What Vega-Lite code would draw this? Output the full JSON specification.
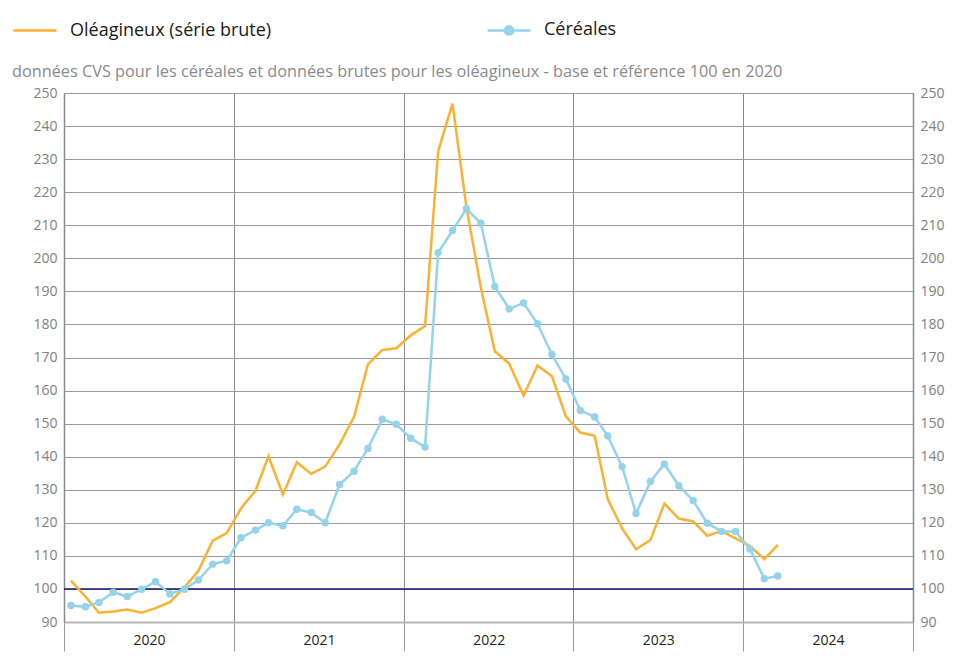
{
  "$schema": "https://vega.github.io/schema/vega-lite/v6.json",
  "width": 849,
  "height": 529,
  "autosize": {"type": "none"},
  "padding": {"left": 64, "top": 93, "right": 45, "bottom": 49},
  "background": "white",
  "config": {
    "font": "Open Sans",
    "view": {"stroke": null},
    "axis": {"labelFont": "Open Sans", "titleFont": "Open Sans"},
    "legend": {"labelFont": "Open Sans"}
  },
  "title": {
    "text": "données CVS pour les céréales et données brutes pour les oléagineux - base et référence 100 en 2020",
    "anchor": "start",
    "frame": "group",
    "dx": -52,
    "dy": 79,
    "offset": 6,
    "fontSize": 16.3,
    "fontWeight": "normal",
    "color": "#8a8a8a",
    "font": "Open Sans"
  },
  "datasets": {
    "series": [
      {"date": "2020-01-16", "serie": "Céréales", "value": 95.0},
      {"date": "2020-02-16", "serie": "Céréales", "value": 94.6},
      {"date": "2020-03-16", "serie": "Céréales", "value": 95.9},
      {"date": "2020-04-16", "serie": "Céréales", "value": 99.0},
      {"date": "2020-05-16", "serie": "Céréales", "value": 97.7},
      {"date": "2020-06-16", "serie": "Céréales", "value": 99.9},
      {"date": "2020-07-16", "serie": "Céréales", "value": 102.2},
      {"date": "2020-08-16", "serie": "Céréales", "value": 98.5},
      {"date": "2020-09-16", "serie": "Céréales", "value": 99.9},
      {"date": "2020-10-16", "serie": "Céréales", "value": 102.7},
      {"date": "2020-11-16", "serie": "Céréales", "value": 107.5},
      {"date": "2020-12-16", "serie": "Céréales", "value": 108.5},
      {"date": "2021-01-16", "serie": "Céréales", "value": 115.5},
      {"date": "2021-02-16", "serie": "Céréales", "value": 117.8},
      {"date": "2021-03-16", "serie": "Céréales", "value": 120.0},
      {"date": "2021-04-16", "serie": "Céréales", "value": 119.1},
      {"date": "2021-05-16", "serie": "Céréales", "value": 124.1},
      {"date": "2021-06-16", "serie": "Céréales", "value": 123.1},
      {"date": "2021-07-16", "serie": "Céréales", "value": 120.0},
      {"date": "2021-08-16", "serie": "Céréales", "value": 131.6},
      {"date": "2021-09-16", "serie": "Céréales", "value": 135.6},
      {"date": "2021-10-16", "serie": "Céréales", "value": 142.5},
      {"date": "2021-11-16", "serie": "Céréales", "value": 151.3},
      {"date": "2021-12-16", "serie": "Céréales", "value": 149.8},
      {"date": "2022-01-16", "serie": "Céréales", "value": 145.6},
      {"date": "2022-02-16", "serie": "Céréales", "value": 142.9},
      {"date": "2022-03-16", "serie": "Céréales", "value": 201.7},
      {"date": "2022-04-16", "serie": "Céréales", "value": 208.4},
      {"date": "2022-05-16", "serie": "Céréales", "value": 215.0},
      {"date": "2022-06-16", "serie": "Céréales", "value": 210.6},
      {"date": "2022-07-16", "serie": "Céréales", "value": 191.5},
      {"date": "2022-08-16", "serie": "Céréales", "value": 184.7},
      {"date": "2022-09-16", "serie": "Céréales", "value": 186.5},
      {"date": "2022-10-16", "serie": "Céréales", "value": 180.2},
      {"date": "2022-11-16", "serie": "Céréales", "value": 170.9},
      {"date": "2022-12-16", "serie": "Céréales", "value": 163.5},
      {"date": "2023-01-16", "serie": "Céréales", "value": 154.0},
      {"date": "2023-02-16", "serie": "Céréales", "value": 152.0},
      {"date": "2023-03-16", "serie": "Céréales", "value": 146.3},
      {"date": "2023-04-16", "serie": "Céréales", "value": 137.0},
      {"date": "2023-05-16", "serie": "Céréales", "value": 122.8},
      {"date": "2023-06-16", "serie": "Céréales", "value": 132.5},
      {"date": "2023-07-16", "serie": "Céréales", "value": 137.8},
      {"date": "2023-08-16", "serie": "Céréales", "value": 131.2},
      {"date": "2023-09-16", "serie": "Céréales", "value": 126.7},
      {"date": "2023-10-16", "serie": "Céréales", "value": 119.9},
      {"date": "2023-11-16", "serie": "Céréales", "value": 117.4},
      {"date": "2023-12-16", "serie": "Céréales", "value": 117.4},
      {"date": "2024-01-16", "serie": "Céréales", "value": 112.1},
      {"date": "2024-02-16", "serie": "Céréales", "value": 103.1},
      {"date": "2024-03-16", "serie": "Céréales", "value": 103.9},
      {"date": "2020-01-16", "serie": "Oléagineux (série brute)", "value": 102.5},
      {"date": "2020-02-16", "serie": "Oléagineux (série brute)", "value": 97.7},
      {"date": "2020-03-16", "serie": "Oléagineux (série brute)", "value": 92.8},
      {"date": "2020-04-16", "serie": "Oléagineux (série brute)", "value": 93.2},
      {"date": "2020-05-16", "serie": "Oléagineux (série brute)", "value": 93.8},
      {"date": "2020-06-16", "serie": "Oléagineux (série brute)", "value": 92.8},
      {"date": "2020-07-16", "serie": "Oléagineux (série brute)", "value": 94.2},
      {"date": "2020-08-16", "serie": "Oléagineux (série brute)", "value": 96.0},
      {"date": "2020-09-16", "serie": "Oléagineux (série brute)", "value": 100.5},
      {"date": "2020-10-16", "serie": "Oléagineux (série brute)", "value": 105.4},
      {"date": "2020-11-16", "serie": "Oléagineux (série brute)", "value": 114.6},
      {"date": "2020-12-16", "serie": "Oléagineux (série brute)", "value": 116.9},
      {"date": "2021-01-16", "serie": "Oléagineux (série brute)", "value": 124.4},
      {"date": "2021-02-16", "serie": "Oléagineux (série brute)", "value": 129.7},
      {"date": "2021-03-16", "serie": "Oléagineux (série brute)", "value": 140.1},
      {"date": "2021-04-16", "serie": "Oléagineux (série brute)", "value": 128.6},
      {"date": "2021-05-16", "serie": "Oléagineux (série brute)", "value": 138.3},
      {"date": "2021-06-16", "serie": "Oléagineux (série brute)", "value": 134.8},
      {"date": "2021-07-16", "serie": "Oléagineux (série brute)", "value": 137.0},
      {"date": "2021-08-16", "serie": "Oléagineux (série brute)", "value": 143.7},
      {"date": "2021-09-16", "serie": "Oléagineux (série brute)", "value": 152.0},
      {"date": "2021-10-16", "serie": "Oléagineux (série brute)", "value": 167.9},
      {"date": "2021-11-16", "serie": "Oléagineux (série brute)", "value": 172.3},
      {"date": "2021-12-16", "serie": "Oléagineux (série brute)", "value": 172.8},
      {"date": "2022-01-16", "serie": "Oléagineux (série brute)", "value": 176.7},
      {"date": "2022-02-16", "serie": "Oléagineux (série brute)", "value": 179.5},
      {"date": "2022-03-16", "serie": "Oléagineux (série brute)", "value": 232.3},
      {"date": "2022-04-16", "serie": "Oléagineux (série brute)", "value": 246.8},
      {"date": "2022-05-16", "serie": "Oléagineux (série brute)", "value": 215.4},
      {"date": "2022-06-16", "serie": "Oléagineux (série brute)", "value": 191.2},
      {"date": "2022-07-16", "serie": "Oléagineux (série brute)", "value": 171.9},
      {"date": "2022-08-16", "serie": "Oléagineux (série brute)", "value": 168.1},
      {"date": "2022-09-16", "serie": "Oléagineux (série brute)", "value": 158.5},
      {"date": "2022-10-16", "serie": "Oléagineux (série brute)", "value": 167.6},
      {"date": "2022-11-16", "serie": "Oléagineux (série brute)", "value": 164.3},
      {"date": "2022-12-16", "serie": "Oléagineux (série brute)", "value": 152.2},
      {"date": "2023-01-16", "serie": "Oléagineux (série brute)", "value": 147.3},
      {"date": "2023-02-16", "serie": "Oléagineux (série brute)", "value": 146.3},
      {"date": "2023-03-16", "serie": "Oléagineux (série brute)", "value": 127.2},
      {"date": "2023-04-16", "serie": "Oléagineux (série brute)", "value": 118.3},
      {"date": "2023-05-16", "serie": "Oléagineux (série brute)", "value": 112.0},
      {"date": "2023-06-16", "serie": "Oléagineux (série brute)", "value": 114.8},
      {"date": "2023-07-16", "serie": "Oléagineux (série brute)", "value": 125.8},
      {"date": "2023-08-16", "serie": "Oléagineux (série brute)", "value": 121.3},
      {"date": "2023-09-16", "serie": "Oléagineux (série brute)", "value": 120.4},
      {"date": "2023-10-16", "serie": "Oléagineux (série brute)", "value": 116.1},
      {"date": "2023-11-16", "serie": "Oléagineux (série brute)", "value": 117.5},
      {"date": "2023-12-16", "serie": "Oléagineux (série brute)", "value": 115.3},
      {"date": "2024-01-16", "serie": "Oléagineux (série brute)", "value": 113.0},
      {"date": "2024-02-16", "serie": "Oléagineux (série brute)", "value": 109.0},
      {"date": "2024-03-16", "serie": "Oléagineux (série brute)", "value": 113.3}
    ],
    "reference": [{"ref": 100}]
  },
  "layer": [
    {
      "data": {"name": "reference"},
      "mark": {"type": "rule", "color": "#14146b", "strokeWidth": 1.5},
      "encoding": {
        "y": {
          "field": "ref",
          "type": "quantitative",
          "scale": {"domain": [90, 250], "nice": false, "zero": false},
          "axis": {
            "orient": "left",
            "title": null,
            "values": [90, 100, 110, 120, 130, 140, 150, 160, 170, 180, 190, 200, 210, 220, 230, 240, 250],
            "grid": true,
            "gridColor": "#9a9a9a",
            "gridWidth": 1,
            "ticks": false,
            "domain": true,
            "domainColor": "#8a8a8a",
            "domainWidth": 1.5,
            "labelColor": "#808080",
            "labelFontSize": 14,
            "labelPadding": 7
          }
        }
      }
    },
    {
      "data": {"name": "series"},
      "transform": [{"filter": "datum.serie === 'Oléagineux (série brute)'"}],
      "mark": {"type": "line", "strokeWidth": 2.5},
      "encoding": {
        "x": {
          "field": "date",
          "type": "temporal",
          "scale": {"type": "utc", "domain": ["2020-01-01", "2025-01-01"], "nice": false},
          "axis": {
            "title": null,
            "tickCount": {"interval": "year", "step": 1},
            "format": "%Y",
            "labelExpr": "datum.label == '2025' ? '' : datum.label",
            "grid": true,
            "gridColor": "#8a8a8a",
            "gridWidth": 1,
            "ticks": true,
            "tickSize": 29,
            "tickColor": "#9a9a9a",
            "tickWidth": 1,
            "domain": true,
            "domainColor": "#b5b5b5",
            "domainWidth": 2,
            "labelOffset": 85,
            "labelAlign": "center",
            "labelPadding": -18,
            "labelFlush": false,
            "labelOverlap": false,
            "labelBound": false,
            "labelColor": "#222222",
            "labelFontSize": 14
          }
        },
        "y": {
          "field": "value",
          "type": "quantitative",
          "axis": {
            "orient": "right",
            "title": null,
            "values": [90, 100, 110, 120, 130, 140, 150, 160, 170, 180, 190, 200, 210, 220, 230, 240, 250],
            "grid": false,
            "ticks": false,
            "domain": true,
            "domainColor": "#8a8a8a",
            "domainWidth": 1.5,
            "labelColor": "#808080",
            "labelFontSize": 14,
            "labelPadding": 7
          }
        },
        "color": {
          "field": "serie",
          "type": "nominal",
          "scale": {"domain": ["Oléagineux (série brute)", "Céréales"], "range": ["#FBB133", "#95D3EB"]},
          "legend": {
            "title": null,
            "orient": "none",
            "direction": "horizontal",
            "legendX": -52,
            "legendY": -86,
            "symbolType": "stroke",
            "symbolSize": 1849,
            "symbolStrokeWidth": 2.5,
            "labelFontSize": 18,
            "labelLimit": 500,
            "labelColor": "#1a1a1a",
            "labelOffset": 12,
            "columnPadding": 210,
            "encode": {
              "symbols": {
                "update": {
                  "shape": {"signal": "datum.value === 'Céréales' ? 'M-1,0H1M-0.19,0A0.19,0.19 0 1,1 0.19,0A0.19,0.19 0 1,1 -0.19,0Z' : 'M-1,0H1'"},
                  "fill": {"signal": "datum.value === 'Céréales' ? '#95D3EB' : 'transparent'"},
                  "stroke": {"signal": "datum.value === 'Céréales' ? '#95D3EB' : '#FBB133'"},
                  "strokeWidth": {"value": 2.5},
                  "opacity": {"value": 1}
                }
              }
            }
          }
        }
      }
    },
    {
      "data": {"name": "series"},
      "transform": [{"filter": "datum.serie === 'Céréales'"}],
      "mark": {"type": "line", "strokeWidth": 2.5, "point": {"filled": true, "size": 55}},
      "encoding": {
        "x": {"field": "date", "type": "temporal"},
        "y": {"field": "value", "type": "quantitative", "axis": null},
        "color": {"field": "serie", "type": "nominal"}
      }
    }
  ]
}
